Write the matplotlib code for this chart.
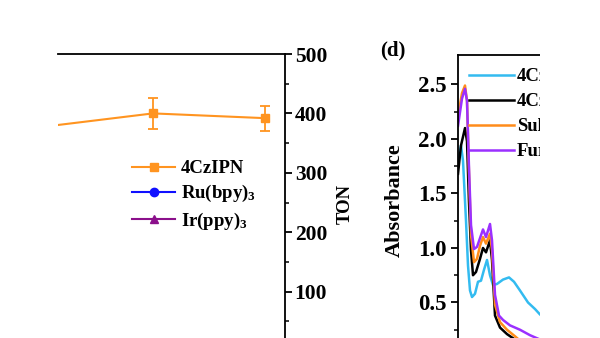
import matplotlib
matplotlib.use("Agg")
import matplotlib.pyplot as plt
from matplotlib.lines import Line2D
from matplotlib.patches import Rectangle

plt.rcParams['font.family'] = ['Liberation Serif', 'DejaVu Serif']
plt.rcParams['font.weight'] = 'bold'
plt.rcParams['mathtext.fontset'] = 'custom'
plt.rcParams['mathtext.rm'] = 'Liberation Serif:bold'
plt.rcParams['mathtext.bf'] = 'Liberation Serif:bold'
plt.rcParams['mathtext.default'] = 'rm'

# ---- left panel data (TON) ----
ton_x = [2, 3, 4]
ton_4czipn = [377, 400, 392]
ton_err = [20, 26, 21]
ton_labels = ['4CzIPN', 'Ru(bpy)$_3$', 'Ir(ppy)$_3$']
ton_colors = ['#FF9420', '#1010FF', '#8B108B']
ton_markers = ['s', 'o', '^']
ton_yticks = [100, 200, 300, 400, 500]

# ---- right panel data (Absorbance) ----
wl_blue = [250, 256.6, 261, 267.6, 272, 276.4, 280.8, 287.4, 294, 300.6, 307.2, 313.8,
           320.4, 327, 335.8, 349, 362.2, 373.2, 386.4, 404, 419.4, 430.4, 460]
ab_blue = [1.80, 1.94, 1.80, 1.25, 0.84, 0.61, 0.55, 0.58, 0.69, 0.70, 0.80, 0.89,
           0.75, 0.66, 0.67, 0.71, 0.73, 0.69, 0.61, 0.50, 0.44, 0.39, 0.30]
wl_black = [250, 256.6, 265.4, 269.8, 274, 278.6, 283, 289.6, 298.4, 305, 311.6, 320.4,
            324.8, 331.4, 342.4, 357.8, 375.4, 397.4, 430]
ab_black = [1.68, 1.94, 2.10, 1.98, 1.44, 0.98, 0.75, 0.78, 0.90, 1.00, 0.96, 1.07,
            0.89, 0.38, 0.27, 0.21, 0.16, 0.06, 0.02]
wl_orange = [250, 258.8, 265.4, 269.8, 274, 278.6, 285.2, 291.8, 298.4, 305, 311.6, 320.4,
             324.8, 331.4, 342.4, 357.8, 375.4, 397.4, 430]
ab_orange = [2.21, 2.42, 2.49, 2.35, 1.71, 1.12, 0.87, 0.90, 1.02, 1.10, 1.04, 1.13,
             0.98, 0.48, 0.32, 0.25, 0.19, 0.11, 0.05]
wl_purple = [250, 258.8, 265.4, 269.8, 274, 278.6, 285.2, 291.8, 298.4, 305, 311.6, 320.4,
             324.8, 331.4, 340.2, 349, 364.4, 386.4, 408.4, 430.4, 460]
ab_purple = [2.12, 2.37, 2.46, 2.35, 1.76, 1.21, 0.99, 1.01, 1.09, 1.17, 1.10, 1.22,
             1.07, 0.57, 0.38, 0.34, 0.29, 0.25, 0.20, 0.16, 0.10]
abs_labels = ['4CzIPN', '4CzIPN+S', 'Sulfide', 'Furan']
abs_colors = ['#33BBF0', '#000000', '#FF8C1A', '#9B30FF']
abs_yticks = [0.5, 1.0, 1.5, 2.0, 2.5]
abs_yticklabels = ['0.5', '1.0', '1.5', '2.0', '2.5']

W, H = 600, 338
fig = plt.figure(figsize=(6, 3.38), dpi=100)

def fx(p):
    return p / W

def fy(p):
    return 1 - p / H

# Left axes: x 58..285 px, y 54..351 px
axL = fig.add_axes([fx(58), fy(351), fx(285) - fx(58), (351 - 54) / H])
axL.errorbar(ton_x, ton_4czipn, yerr=ton_err, color=ton_colors[0], marker='s', ms=6,
             lw=1.5, capsize=3.5, elinewidth=1.3, capthick=1.3)
axL.set_xlim(2.152, 4.179)
axL.set_ylim(0, 500)
axL.spines['left'].set_visible(False)
for s in ['top', 'right', 'bottom']:
    axL.spines[s].set_linewidth(1.3)
axL.yaxis.tick_right()
axL.yaxis.set_label_position('right')
axL.set_yticks(ton_yticks)
axL.set_yticks([50, 150, 250, 350, 450], minor=True)
axL.tick_params(axis='y', which='major', direction='out', length=5, width=1.3,
                labelsize=15.5, pad=2)
axL.tick_params(axis='y', which='minor', direction='out', length=3, width=1.1)
axL.set_xticks([])
for t in axL.get_yticklabels():
    t.set_fontweight('bold')
fig.text(fx(345), fy(204), 'TON', rotation=90, ha='center', va='center',
         fontsize=13.5, fontweight='bold')

handles = [Line2D([], [], color=c, marker=m, ms=6, lw=1.5)
           for c, m in zip(ton_colors, ton_markers)]
axL.legend(handles, ton_labels, loc='upper left', bbox_to_anchor=(fx(132), fy(160)),
           bbox_transform=fig.transFigure, frameon=False,
           handlelength=2.3, handletextpad=0.3, labelspacing=0.33,
           borderpad=0, borderaxespad=0, prop={'weight': 'bold', 'size': 13.5})

# Right axes: left spine at 458 px, top at 55 px, 0 at 357 px
axR = fig.add_axes([fx(458), fy(357), fx(594) - fx(458), (357 - 55) / H])
for wl, ab, c in zip([wl_blue, wl_black, wl_orange, wl_purple],
                     [ab_blue, ab_black, ab_orange, ab_purple], abs_colors):
    axR.plot(wl, ab, color=c, lw=1.8)
axR.set_xlim(250, 549.2)
axR.set_ylim(0, 2.77)
axR.set_yticks(abs_yticks)
axR.set_yticklabels(abs_yticklabels)
axR.set_yticks([0.25, 0.75, 1.25, 1.75, 2.25], minor=True)
axR.tick_params(axis='y', which='major', direction='out', length=5, width=1.3,
                labelsize=16.5, pad=3)
axR.tick_params(axis='y', which='minor', direction='out', length=3, width=1.1)
axR.set_xticks([])
for s in ['top', 'left', 'right', 'bottom']:
    axR.spines[s].set_linewidth(1.3)
for t in axR.get_yticklabels():
    t.set_fontweight('bold')
fig.text(fx(395), fy(200), 'Absorbance', rotation=90, ha='center', va='center',
         fontsize=16, fontweight='bold')
abs_handles = [Line2D([], [], color=c, lw=1.8) for c in abs_colors]
axR.legend(abs_handles, abs_labels, loc='upper left', bbox_to_anchor=(fx(469), fy(68)),
           bbox_transform=fig.transFigure, frameon=False,
           handlelength=2.4, handletextpad=0.15, labelspacing=0.42,
           borderpad=0, borderaxespad=0, prop={'weight': 'bold', 'size': 13.5})

fig.text(fx(380), fy(50), '(d)', ha='left', va='center', fontsize=15, fontweight='bold')

# crop edge of the original figure
fig.add_artist(Rectangle((fx(540), 0), 1 - fx(540), 1, transform=fig.transFigure,
                         facecolor='white', edgecolor='none', zorder=20))

fig.savefig('out.png', dpi=100)
